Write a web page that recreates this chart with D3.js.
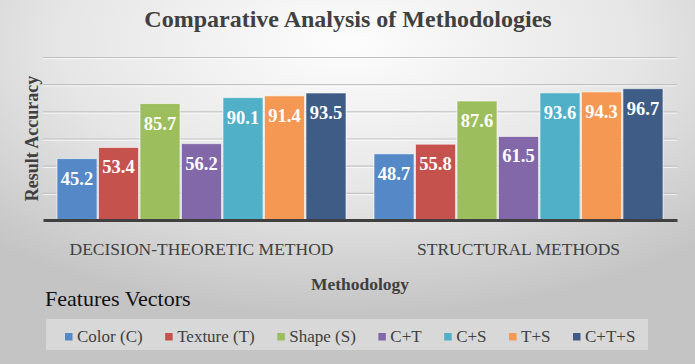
<!DOCTYPE html>
<html>
<head>
<meta charset="utf-8">
<script src="https://cdn.jsdelivr.net/npm/d3@7"></script>
<style>
  body { margin: 0; padding: 0; }
  svg { display: block; }
  svg text { font-family: "Liberation Serif", "Times New Roman", serif; }
</style>
</head>
<body>
<div id="chart"></div>
<script>
// data
var methods = ["DECISION-THEORETIC METHOD", "STRUCTURAL METHODS"];
var features = ["Color (C)", "Texture (T)", "Shape (S)", "C+T", "C+S", "T+S", "C+T+S"];
var decisionTheoretic = [45.2, 53.4, 85.7, 56.2, 90.1, 91.4, 93.5];
var structural = [48.7, 55.8, 87.6, 61.5, 93.6, 94.3, 96.7];
var yTicks = [0, 20, 40, 60, 80, 100, 120];
var colors = ["#5488c6", "#c6524e", "#9cbe5c", "#8268a8", "#50b0c8", "#f59853", "#3e5c86"];

var width = 695, height = 364;
var margin = {top: 57, right: 18, bottom: 144, left: 43};
var serif = "Liberation Serif, Times New Roman, serif";

var rows = [decisionTheoretic, structural];
var data = [];
methods.forEach(function(m, i) {
    features.forEach(function(f, j) {
        data.push({method: m, feature: f, value: rows[i][j]});
    });
});

var svg = d3.select("#chart")
    .append("svg")
    .attr("width", width)
    .attr("height", height);

// background
var defs = svg.append("defs");
var bg = defs.append("radialGradient")
    .attr("id", "bg")
    .attr("cx", "50%").attr("cy", "12%").attr("r", "75%");
bg.append("stop").attr("offset", "0%").attr("stop-color", "#fdfdfd");
bg.append("stop").attr("offset", "55%").attr("stop-color", "#e6e6e6");
bg.append("stop").attr("offset", "100%").attr("stop-color", "#c4c4c4");

svg.append("rect")
    .attr("width", width)
    .attr("height", height)
    .attr("fill", "url(#bg)");

var x0 = d3.scaleBand()
    .domain(methods)
    .range([margin.left, width - margin.right]);

var x1 = d3.scaleBand()
    .domain(features)
    .range([14, x0.bandwidth() - 14])
    .paddingInner(0.035);

var y = d3.scaleLinear()
    .domain([0, 120])
    .range([height - margin.bottom, margin.top]);

var color = d3.scaleOrdinal().domain(features).range(colors);

// gridlines (no tick labels in the original)
var grid = svg.append("g");
grid.selectAll(".gl")
    .data(yTicks.slice(1))
    .enter().append("line")
    .attr("x1", margin.left).attr("x2", width - margin.right)
    .attr("y1", function(d) { return y(d) + 0.5; })
    .attr("y2", function(d) { return y(d) + 0.5; })
    .attr("stroke", "#c2c2c2")
    .attr("stroke-width", 1.2);
grid.selectAll(".gh")
    .data(yTicks.slice(1))
    .enter().append("line")
    .attr("x1", margin.left).attr("x2", width - margin.right)
    .attr("y1", function(d) { return y(d) + 1.8; })
    .attr("y2", function(d) { return y(d) + 1.8; })
    .attr("stroke", "#ffffff")
    .attr("stroke-opacity", 0.7)
    .attr("stroke-width", 1);

// bars
var bars = svg.append("g")
    .selectAll("g")
    .data(data)
    .enter().append("g")
    .attr("transform", function(d) { return "translate(" + (x0(d.method) + x1(d.feature)) + ",0)"; });

bars.append("rect")
    .attr("x", 0)
    .attr("y", function(d) { return y(d.value); })
    .attr("width", x1.bandwidth())
    .attr("height", function(d) { return y(0) - y(d.value); })
    .attr("fill", function(d) { return color(d.feature); })
    .attr("stroke", "rgba(255,255,255,0.6)")
    .attr("stroke-width", 1);

bars.append("text")
    .attr("x", x1.bandwidth() / 2)
    .attr("y", function(d) { return y(d.value) + 26; })
    .attr("text-anchor", "middle")
    .attr("fill", "#ffffff")
    .attr("font-family", serif)
    .attr("font-weight", "bold")
    .attr("font-size", "18.5px")
    .text(function(d) { return d.value.toFixed(1); });

// x axis: baseline + category labels
var xAxis = svg.append("g")
    .attr("transform", "translate(0," + y(0) + ")")
    .call(d3.axisBottom(x0).tickSize(0).tickPadding(0));
xAxis.attr("font-family", serif);
xAxis.select(".domain")
    .attr("stroke", "#404040")
    .attr("stroke-width", 3);
xAxis.selectAll("text")
    .attr("dy", 0)
    .attr("y", 35)
    .attr("font-size", "17.5px")
    .attr("fill", "#404040");

// title
svg.append("text")
    .attr("x", 348)
    .attr("y", 27)
    .attr("text-anchor", "middle")
    .attr("font-family", serif)
    .attr("font-weight", "bold")
    .attr("font-size", "24px")
    .attr("fill", "#404040")
    .text("Comparative Analysis of Methodologies");

// axis titles
svg.append("text")
    .attr("transform", "translate(38," + ((y(0) + y(120)) / 2) + ")rotate(-90)")
    .attr("text-anchor", "middle")
    .attr("font-family", serif)
    .attr("font-weight", "bold")
    .attr("font-size", "18px")
    .attr("fill", "#404040")
    .text("Result Accuracy");

svg.append("text")
    .attr("x", (margin.left + width - margin.right) / 2)
    .attr("y", 290)
    .attr("text-anchor", "middle")
    .attr("font-family", serif)
    .attr("font-weight", "bold")
    .attr("font-size", "17.5px")
    .attr("fill", "#404040")
    .text("Methodology");

// legend
svg.append("text")
    .attr("x", 45)
    .attr("y", 306)
    .attr("font-family", serif)
    .attr("font-size", "22px")
    .attr("fill", "#111111")
    .text("Features Vectors");

svg.append("rect")
    .attr("x", 46).attr("y", 319)
    .attr("width", 602).attr("height", 31)
    .attr("fill", "rgba(255,255,255,0.35)");

var legend = svg.append("g");
var lx = 65;
features.forEach(function(f) {
    var item = legend.append("g").attr("transform", "translate(" + lx + ",0)");
    item.append("rect")
        .attr("x", 0).attr("y", 333)
        .attr("width", 7.5).attr("height", 7.5)
        .attr("fill", color(f));
    var t = item.append("text")
        .attr("x", 12).attr("y", 342)
        .attr("font-family", serif)
        .attr("font-size", "17px")
        .attr("fill", "#404040")
        .text(f);
    lx += 12 + t.node().getComputedTextLength() + 22.5;
});
</script>
</body>
</html>
